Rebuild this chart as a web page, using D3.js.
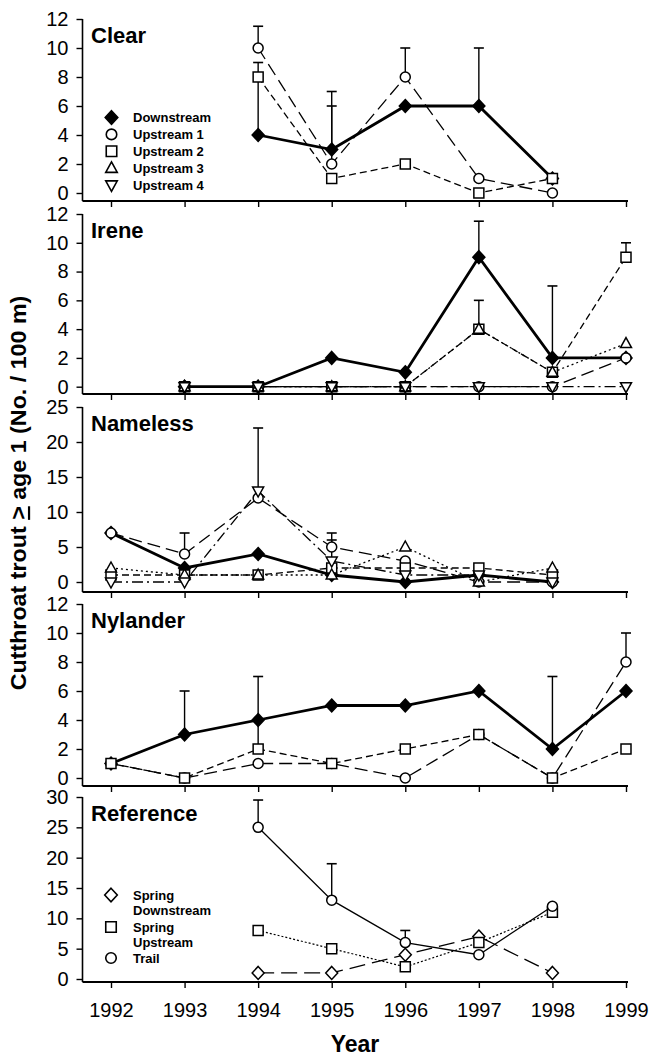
<!DOCTYPE html>
<meta charset="utf-8">
<script src="https://d3js.org/d3.v7.min.js"></script>
<style>
  body { margin: 0; background: #fff; }
  text { font-family: "Liberation Sans", Arial, sans-serif; }
</style>
<div id="my_dataviz"></div>
<script>

// ---- data ----
var years = [1992, 1993, 1994, 1995, 1996, 1997, 1998, 1999];

// Clear
var clearDown    = [null, null, 4, 3, 6, 6, 1, null];
var clearDownErr = [null, null, 8, 7, null, 10, null, null];
var clearUp1     = [null, null, 10, 2, 8, 1, 0, null];
var clearUp1Err  = [null, null, 11.5, 6, 10, null, null, null];
var clearUp2     = [null, null, 8, 1, 2, 0, 1, null];
var clearUp2Err  = [null, null, 9, null, null, null, null, null];

// Irene
var ireneDown    = [null, 0, 0, 2, 1, 9, 2, 2];
var ireneDownErr = [null, null, null, null, null, 11.5, 7, null];
var ireneUp1     = [null, 0, 0, 0, 0, 0, 0, 2];
var ireneUp2     = [null, 0, 0, 0, 0, 4, 1, 9];
var ireneUp2Err  = [null, null, null, null, null, 6, null, 10];
var ireneUp3     = [null, 0, 0, 0, 0, 4, 1, 3];
var ireneUp4     = [null, 0, 0, 0, 0, 0, 0, 0];

// Nameless
var namDown   = [7, 2, 4, 1, 0, 1, 0, null];
var namUp1    = [7, 4, 12, 5, 3, 0, 0, null];
var namUp1Err = [null, 7, null, 7, null, null, null, null];
var namUp2    = [1, 1, 1, 2, 2, 2, 1, null];
var namUp3    = [2, 1, 1, 1, 5, 0, 2, null];
var namUp4    = [0, 0, 13, 3, 1, 1, 0, null];
var namUp4Err = [null, null, 22, 6, null, null, null, null];

// Nylander
var nylDown    = [1, 3, 4, 5, 5, 6, 2, 6];
var nylDownErr = [null, 6, 7, null, null, null, 7, null];
var nylUp1     = [1, 0, 1, 1, 0, 3, 0, 8];
var nylUp1Err  = [null, null, null, null, null, null, null, 10];
var nylUp2     = [1, 0, 2, 1, 2, 3, 0, 2];
var nylUp2Err  = [null, null, 4, null, null, null, null, null];

// Reference
var refSprDown  = [null, null, 1, 1, 4, 7, 1, null];
var refSprUp    = [null, null, 8, 5, 2, 6, 11, null];
var refSprUpErr = [null, null, 8.6, null, null, null, null, null];
var refTrail    = [null, null, 25, 13, 6, 4, 12, null];
var refTrailErr = [null, null, 29.5, 19, 8, null, null, null];

// ---- styles per series ----
var styles = {
  down:    {shape: "diamond", fill: "#000", dash: null, width: 2.8},
  up1:     {shape: "circle",  fill: "#fff", dash: "13,6", width: 1.3},
  up2:     {shape: "square",  fill: "#fff", dash: "7,4", width: 1.3},
  up3:     {shape: "triUp",   fill: "#fff", dash: "2,3", width: 1.3},
  up4:     {shape: "triDown", fill: "#fff", dash: "11,4,2,4", width: 1.3},
  sprDown: {shape: "diamond", fill: "#fff", dash: "16,7", width: 1.3},
  sprUp:   {shape: "square",  fill: "#fff", dash: "2,2", width: 1.2},
  trail:   {shape: "circle",  fill: "#fff", dash: null, width: 1.3}
};

var panels = [
  {name: "Clear", top: 19, zero: 193, bottom: 201, max: 12, step: 2,
   series: [["down", clearDown, clearDownErr], ["up1", clearUp1, clearUp1Err], ["up2", clearUp2, clearUp2Err]]},
  {name: "Irene", top: 214, zero: 386.7, bottom: 394, max: 12, step: 2,
   series: [["down", ireneDown, ireneDownErr], ["up1", ireneUp1, null], ["up2", ireneUp2, ireneUp2Err],
            ["up3", ireneUp3, null], ["up4", ireneUp4, null]]},
  {name: "Nameless", top: 407, zero: 582, bottom: 592, max: 25, step: 5,
   series: [["down", namDown, null], ["up1", namUp1, namUp1Err], ["up2", namUp2, null],
            ["up3", namUp3, null], ["up4", namUp4, namUp4Err]]},
  {name: "Nylander", top: 604, zero: 778, bottom: 786, max: 12, step: 2,
   series: [["down", nylDown, nylDownErr], ["up1", nylUp1, nylUp1Err], ["up2", nylUp2, nylUp2Err]]},
  {name: "Reference", top: 797, zero: 979, bottom: 982, max: 30, step: 5,
   series: [["sprDown", refSprDown, null], ["sprUp", refSprUp, refSprUpErr], ["trail", refTrail, refTrailErr]]}
];

var width = 649, height = 1056;
var axisLeftX = 82.5;

var svg = d3.select("#my_dataviz")
  .append("svg")
    .attr("width", width)
    .attr("height", height);

var x = d3.scaleLinear()
  .domain([1992, 1999])
  .range([111, 626]);

function shapePath(shape, s) {
  s = s || 1;
  if (shape == "diamond") return "M0," + (-6.5*s) + "L" + (6*s) + ",0L0," + (6.5*s) + "L" + (-6*s) + ",0Z";
  if (shape == "circle") return d3.symbol().type(d3.symbolCircle).size(Math.PI * 25 * s * s)();
  if (shape == "square") return "M" + (-5*s) + "," + (-5*s) + "h" + (10*s) + "v" + (10*s) + "h" + (-10*s) + "Z";
  if (shape == "triUp") return "M0," + (-6*s) + "L" + (5.5*s) + "," + (4*s) + "L" + (-5.5*s) + "," + (4*s) + "Z";
  if (shape == "triDown") return "M0," + (6*s) + "L" + (5.5*s) + "," + (-4*s) + "L" + (-5.5*s) + "," + (-4*s) + "Z";
}

panels.forEach(function(p, pi) {
  var y = d3.scaleLinear().domain([0, p.max]).range([p.zero, p.top]);
  var g = svg.append("g");

  // y axis
  g.append("line")
    .attr("x1", axisLeftX).attr("x2", axisLeftX)
    .attr("y1", p.top).attr("y2", p.bottom)
    .attr("stroke", "#000").attr("stroke-width", 1.6);
  var ya = g.append("g")
    .attr("transform", "translate(" + axisLeftX + ",0)")
    .call(d3.axisLeft(y).tickValues(d3.range(0, p.max + 0.1, p.step)).tickSize(6).tickPadding(8).tickSizeOuter(0));
  ya.select(".domain").remove();
  ya.selectAll("line").attr("stroke-width", 1.4);
  ya.selectAll("text").attr("font-size", "20px").attr("font-family", "Liberation Sans, Arial, sans-serif");

  // x axis
  g.append("line")
    .attr("x1", axisLeftX).attr("x2", x(1999) + 2)
    .attr("y1", p.bottom).attr("y2", p.bottom)
    .attr("stroke", "#000").attr("stroke-width", 1.8);
  var xa = g.append("g")
    .attr("transform", "translate(0," + p.bottom + ")")
    .call(d3.axisBottom(x).tickValues(years).tickFormat(d3.format("d")).tickSize(6).tickPadding(15).tickSizeOuter(0));
  xa.select(".domain").remove();
  xa.selectAll("line").attr("stroke-width", 1.4);
  if (pi < panels.length - 1) xa.selectAll("text").remove();
  else xa.selectAll("text").attr("font-size", "20px").attr("font-family", "Liberation Sans, Arial, sans-serif");

  // title
  g.append("text")
    .attr("x", 91).attr("y", p.top + 24)
    .attr("font-size", "22px").attr("font-weight", "bold")
    .text(p.name);

  // error bars
  p.series.forEach(function(s) {
    var vals = s[1], errs = s[2];
    if (!errs) return;
    errs.forEach(function(e, i) {
      if (e == null || vals[i] == null) return;
      g.append("line")
        .attr("x1", x(years[i])).attr("x2", x(years[i]))
        .attr("y1", y(vals[i])).attr("y2", y(e))
        .attr("stroke", "#000").attr("stroke-width", 1.4);
      g.append("line")
        .attr("x1", x(years[i]) - 5).attr("x2", x(years[i]) + 5)
        .attr("y1", y(e)).attr("y2", y(e))
        .attr("stroke", "#000").attr("stroke-width", 1.6);
    });
  });

  // lines
  var line = d3.line()
    .defined(function(d) { return d[1] != null; })
    .x(function(d) { return x(d[0]); })
    .y(function(d) { return y(d[1]); });
  p.series.forEach(function(s) {
    var st = styles[s[0]];
    g.append("path")
      .datum(years.map(function(yr, i) { return [yr, s[1][i]]; }))
      .attr("d", line)
      .attr("fill", "none")
      .attr("stroke", "#000")
      .attr("stroke-width", st.width)
      .attr("stroke-dasharray", st.dash);
  });

  // markers
  p.series.forEach(function(s) {
    var st = styles[s[0]];
    g.append("g").selectAll("path")
      .data(years.map(function(yr, i) { return [yr, s[1][i]]; }).filter(function(d) { return d[1] != null; }))
      .enter()
      .append("path")
        .attr("transform", function(d) { return "translate(" + x(d[0]) + "," + y(d[1]) + ")"; })
        .attr("d", shapePath(st.shape))
        .attr("fill", st.fill)
        .attr("stroke", "#000")
        .attr("stroke-width", 1.5);
  });
});

// legend for Clear
var legendClear = [["down", "Downstream"], ["up1", "Upstream 1"], ["up2", "Upstream 2"], ["up3", "Upstream 3"], ["up4", "Upstream 4"]];
legendClear.forEach(function(l, i) {
  var ly = 117.5 + i * 16.9;
  svg.append("path")
    .attr("transform", "translate(111.5," + ly + ")")
    .attr("d", shapePath(styles[l[0]].shape, 1.05))
    .attr("fill", styles[l[0]].fill)
    .attr("stroke", "#000").attr("stroke-width", 1.6);
  svg.append("text")
    .attr("x", 133).attr("y", ly + 4.5)
    .attr("font-size", "13px").attr("font-weight", "bold")
    .text(l[1]);
});

// legend for Reference
var legendRef = [["sprDown", ["Spring", "Downstream"]], ["sprUp", ["Spring", "Upstream"]], ["trail", ["Trail"]]];
var refRows = [895, 927, 958];
legendRef.forEach(function(l, i) {
  var ly = refRows[i];
  svg.append("path")
    .attr("transform", "translate(111," + ly + ")")
    .attr("d", shapePath(styles[l[0]].shape, 1.05))
    .attr("fill", "#fff")
    .attr("stroke", "#000").attr("stroke-width", 1.6);
  l[1].forEach(function(t, j) {
    svg.append("text")
      .attr("x", 133).attr("y", ly + 4.5 + j * 15.5)
      .attr("font-size", "13px").attr("font-weight", "bold")
      .text(t);
  });
});

// axis titles (y label is narrow in the original, so squeeze it along its length)
var ylabG = svg.append("g");
var ylab = ylabG.append("text")
  .attr("text-anchor", "middle")
  .attr("font-size", "22px").attr("font-weight", "bold");
ylab.append("tspan").text("Cutthroat trout ");
ylab.append("tspan").attr("text-decoration", "underline").text(">");
ylab.append("tspan").text(" age 1 (No. / 100 m)");
var labLen = ylab.node().getComputedTextLength();
var sx = 395 / labLen;
ylabG.attr("transform", "translate(26,493) rotate(-90) scale(" + sx + ",1)");

svg.append("text")
  .attr("x", 355).attr("y", 1052)
  .attr("text-anchor", "middle")
  .attr("font-size", "23px").attr("font-weight", "bold")
  .text("Year");

</script>
